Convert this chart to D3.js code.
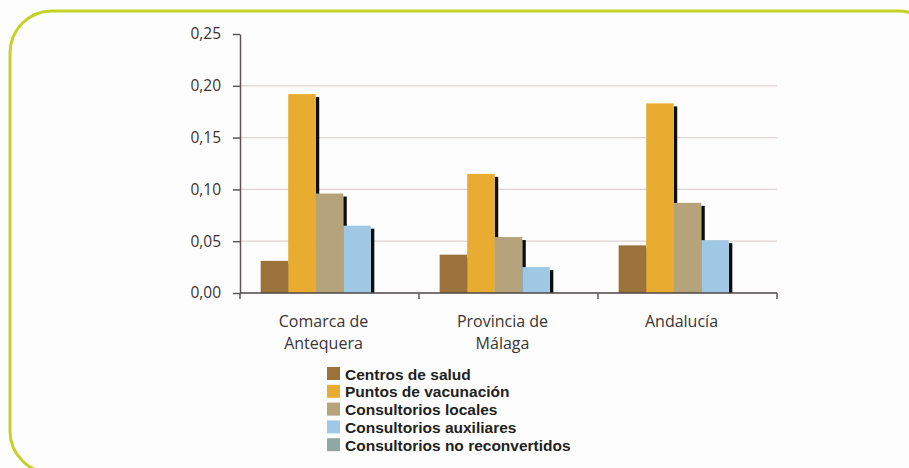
<!DOCTYPE html>
<html>
<head>
<meta charset="utf-8">
<script src="https://cdn.jsdelivr.net/npm/d3@7"></script>
<style>
  body { margin: 0; background: #fdfdfd; }
  svg { display: block; }
</style>
</head>
<body>
<div id="container"></div>
<script>
// data
var categories = ["Comarca de\nAntequera", "Provincia de\nMálaga", "Andalucía"];
var seriesNames = ["Centros de salud", "Puntos de vacunación", "Consultorios locales",
                   "Consultorios auxiliares", "Consultorios no reconvertidos"];
var seriesColors = ["#9a723a", "#e8ad30", "#b4a37b", "#9fc8e4", "#8fa9a2"];
var centrosSalud = [0.031, 0.037, 0.046];
var puntosVacunacion = [0.192, 0.115, 0.183];
var consultoriosLocales = [0.096, 0.054, 0.087];
var consultoriosAuxiliares = [0.065, 0.025, 0.051];
var consultoriosNoReconv = [0, 0, 0];
var yTicks = [0, 0.05, 0.10, 0.15, 0.20, 0.25];

var seriesValues = [centrosSalud, puntosVacunacion, consultoriosLocales,
                    consultoriosAuxiliares, consultoriosNoReconv];

var w = 909, h = 468;
var m = {top: 34, left: 240, right: 132, bottom: 175};

var svg = d3.select("#container").append("svg").attr("width", w).attr("height", h);

// green rounded frame
svg.append("rect")
  .attr("x", 10).attr("y", 11)
  .attr("width", 930).attr("height", 462)
  .attr("rx", 42).attr("ry", 42)
  .attr("fill", "#fdfdfd")
  .attr("stroke", "#c5d329")
  .attr("stroke-width", 3);

var locale = d3.formatLocale({decimal: ",", thousands: ".", grouping: [3], currency: ["", "€"]});
var fmt = locale.format(".2f");

var y = d3.scaleLinear().domain([0, 0.25]).range([h - m.bottom, m.top]);
var x = d3.scaleBand().domain(categories).range([m.left, w - m.right]).paddingInner(0).paddingOuter(0);
var xs = d3.scaleBand().domain(d3.range(seriesNames.length)).range([0, x.bandwidth()])
  .paddingInner(0).paddingOuter(0.75);

// gridlines
svg.append("g").selectAll("line")
  .data(yTicks.filter(function(d){ return d > 0 && d < 0.25; }))
  .enter().append("line")
  .attr("x1", m.left).attr("x2", w - m.right)
  .attr("y1", function(d){ return y(d); })
  .attr("y2", function(d){ return y(d); })
  .attr("stroke", "#ddd3d0")
  .attr("stroke-width", 1.2);

// bars with black drop shadow on the right
var groups = svg.append("g").selectAll("g")
  .data(categories)
  .enter().append("g")
  .attr("transform", function(d){ return "translate(" + x(d) + ",0)"; });

groups.each(function(cat, ci) {
  var g = d3.select(this);
  seriesValues.forEach(function(vals, si) {
    var v = vals[ci];
    if (v <= 0) return;
    g.append("rect")
      .attr("x", xs(si) + xs.bandwidth())
      .attr("y", y(v) + 3)
      .attr("width", 3.5)
      .attr("height", y(0) - y(v) - 3)
      .attr("fill", "#0d0d0d");
    g.append("rect")
      .attr("x", xs(si))
      .attr("y", y(v))
      .attr("width", xs.bandwidth())
      .attr("height", y(0) - y(v))
      .attr("fill", seriesColors[si]);
  });
});

// y axis
var yAxis = d3.axisLeft(y).tickValues(yTicks).tickFormat(fmt).tickSize(7).tickSizeOuter(0).tickPadding(12);
var ya = svg.append("g").attr("transform", "translate(" + m.left + ",0)").call(yAxis);
ya.select(".domain").attr("stroke", "#5e5656").attr("stroke-width", 1.5);
ya.selectAll(".tick line").attr("stroke", "#5e5656").attr("stroke-width", 1.5);
ya.selectAll(".tick text")
  .attr("fill", "#3a3434")
  .style("font-family", "'Open Sans', sans-serif")
  .style("font-size", "15.5px");

// x axis
var xa = svg.append("g");
xa.append("line")
  .attr("x1", m.left).attr("x2", w - m.right)
  .attr("y1", y(0)).attr("y2", y(0))
  .attr("stroke", "#4e4747").attr("stroke-width", 1.5);
var edges = categories.map(function(c){ return x(c); }).concat([x.range()[1]]);
xa.selectAll(".xt").data(edges).enter().append("line")
  .attr("class", "xt")
  .attr("x1", function(d){ return d; }).attr("x2", function(d){ return d; })
  .attr("y1", y(0)).attr("y2", y(0) + 6)
  .attr("stroke", "#5e5656").attr("stroke-width", 1.5);

xa.selectAll(".xl").data(categories).enter().append("text")
  .attr("class", "xl")
  .attr("text-anchor", "middle")
  .attr("fill", "#3a3434")
  .style("font-family", "'Open Sans', sans-serif")
  .style("font-size", "16px")
  .each(function(d) {
    var t = d3.select(this);
    d.split("\n").forEach(function(line, i) {
      t.append("tspan")
        .attr("x", x(d) + x.bandwidth() / 2 - 6)
        .attr("y", y(0) + 34 + i * 22)
        .text(line);
    });
  });

// legend
var lg = svg.append("g").attr("transform", "translate(327,367)");
var rows = lg.selectAll("g").data(seriesNames).enter().append("g")
  .attr("transform", function(d, i){ return "translate(0," + i * 17.8 + ")"; });
rows.append("rect")
  .attr("width", 13).attr("height", 13)
  .attr("fill", function(d, i){ return seriesColors[i]; });
rows.append("text")
  .attr("x", 18).attr("y", 12.5)
  .attr("fill", "#231f20")
  .style("font-family", "'Liberation Sans', Arial, sans-serif")
  .style("font-weight", "700")
  .style("font-size", "15.5px")
  .text(function(d){ return d; });
</script>
</body>
</html>
